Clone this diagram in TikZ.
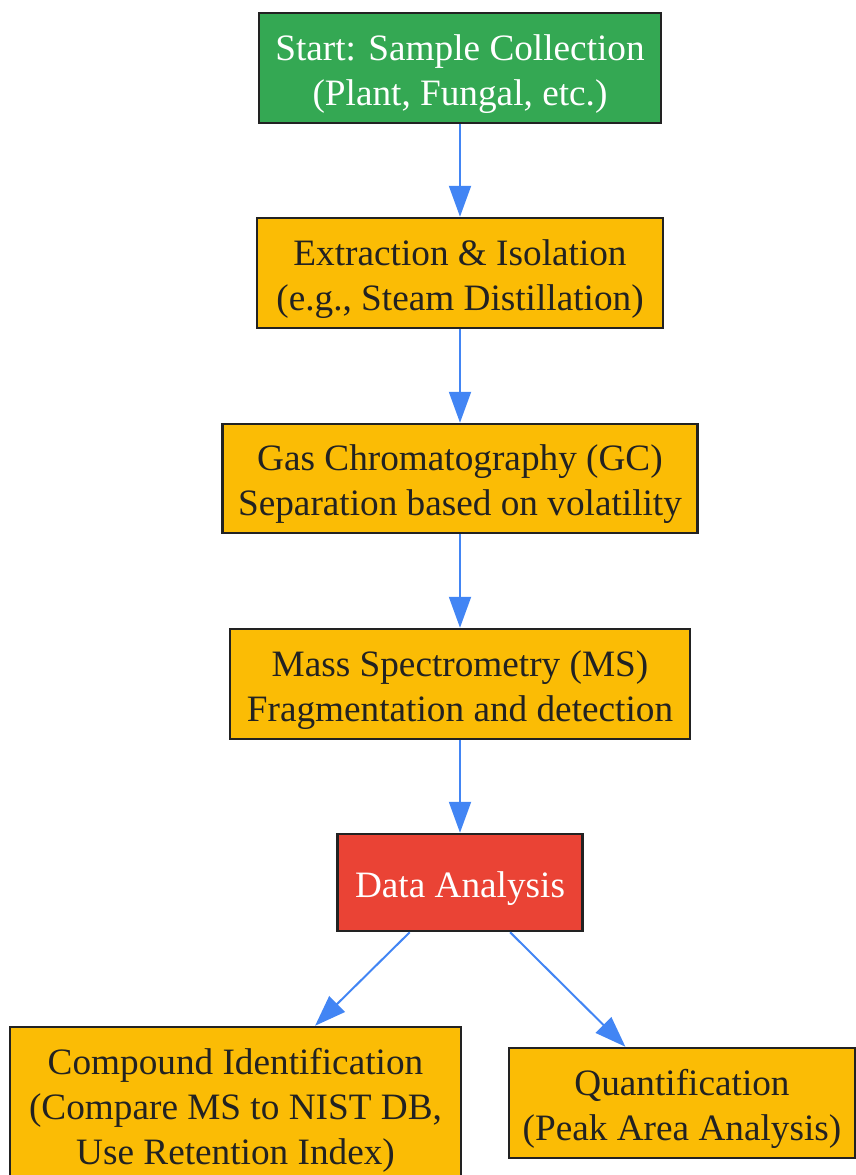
\documentclass[tikz,border=0pt]{standalone}
\usepackage{fontspec}
\setmainfont{Liberation Serif}
\usetikzlibrary{arrows.meta}
\definecolor{gGreen}{HTML}{34A853}
\definecolor{gYellow}{HTML}{FBBC05}
\definecolor{gRed}{HTML}{EA4335}
\definecolor{gBlue}{HTML}{4285F4}
\definecolor{edgeDark}{HTML}{222222}
\newcommand\boxtext[1]{\raisebox{-5.5pt}[\height][\depth]{\begin{tabular}{@{}c@{}}#1\end{tabular}}}
\tikzset{
  box/.style={rectangle, draw=edgeDark, line width=2.5pt, inner sep=0pt,
    align=center, font=\fontsize{37.25}{45}\selectfont, text=edgeDark},
  startbox/.style={box, fill=gGreen, text=white},
  procbox/.style={box, fill=gYellow},
  databox/.style={box, fill=gRed, text=white},
  arr/.style={draw=gBlue, line width=2pt, -{Triangle[length=31pt,width=22pt]}, shorten >=0pt},
}
\begin{document}
\begin{tikzpicture}[x=1pt,y=-1pt]
\useasboundingbox (0,0) rectangle (855,1175);
\node[startbox, minimum width=402pt, minimum height=110pt] (start) at (460,68)
  {\boxtext{Start: Sample Collection\\(Plant, Fungal, etc.)}};
\node[procbox, minimum width=406pt, minimum height=110pt] (extr) at (460,273)
  {\boxtext{Extraction \& Isolation\\(e.g., Steam Distillation)}};
\node[procbox, minimum width=475pt, minimum height=109pt] (gc) at (460,478.5)
  {\boxtext{Gas Chromatography (GC)\\Separation based on volatility}};
\node[procbox, minimum width=460pt, minimum height=110pt] (ms) at (460,684)
  {\boxtext{Mass Spectrometry (MS)\\Fragmentation and detection}};
\node[databox, minimum width=245pt, minimum height=97pt] (data) at (460,882.5)
  {\boxtext{Data Analysis}};
\node[procbox, minimum width=451pt, minimum height=155pt] (comp) at (235.5,1104.5)
  {\boxtext{Compound Identification\\(Compare MS to NIST DB,\\Use Retention Index)}};
\node[procbox, minimum width=346pt, minimum height=110pt] (quant) at (682,1103)
  {\boxtext{Quantification\\(Peak Area Analysis)}};
\draw[arr] (start) -- (extr);
\draw[arr] (extr) -- (gc);
\draw[arr] (gc) -- (ms);
\draw[arr] (ms) -- (data);
\draw[arr] (data) -- (comp);
\draw[arr] (data) -- (quant);
\end{tikzpicture}
\end{document}
